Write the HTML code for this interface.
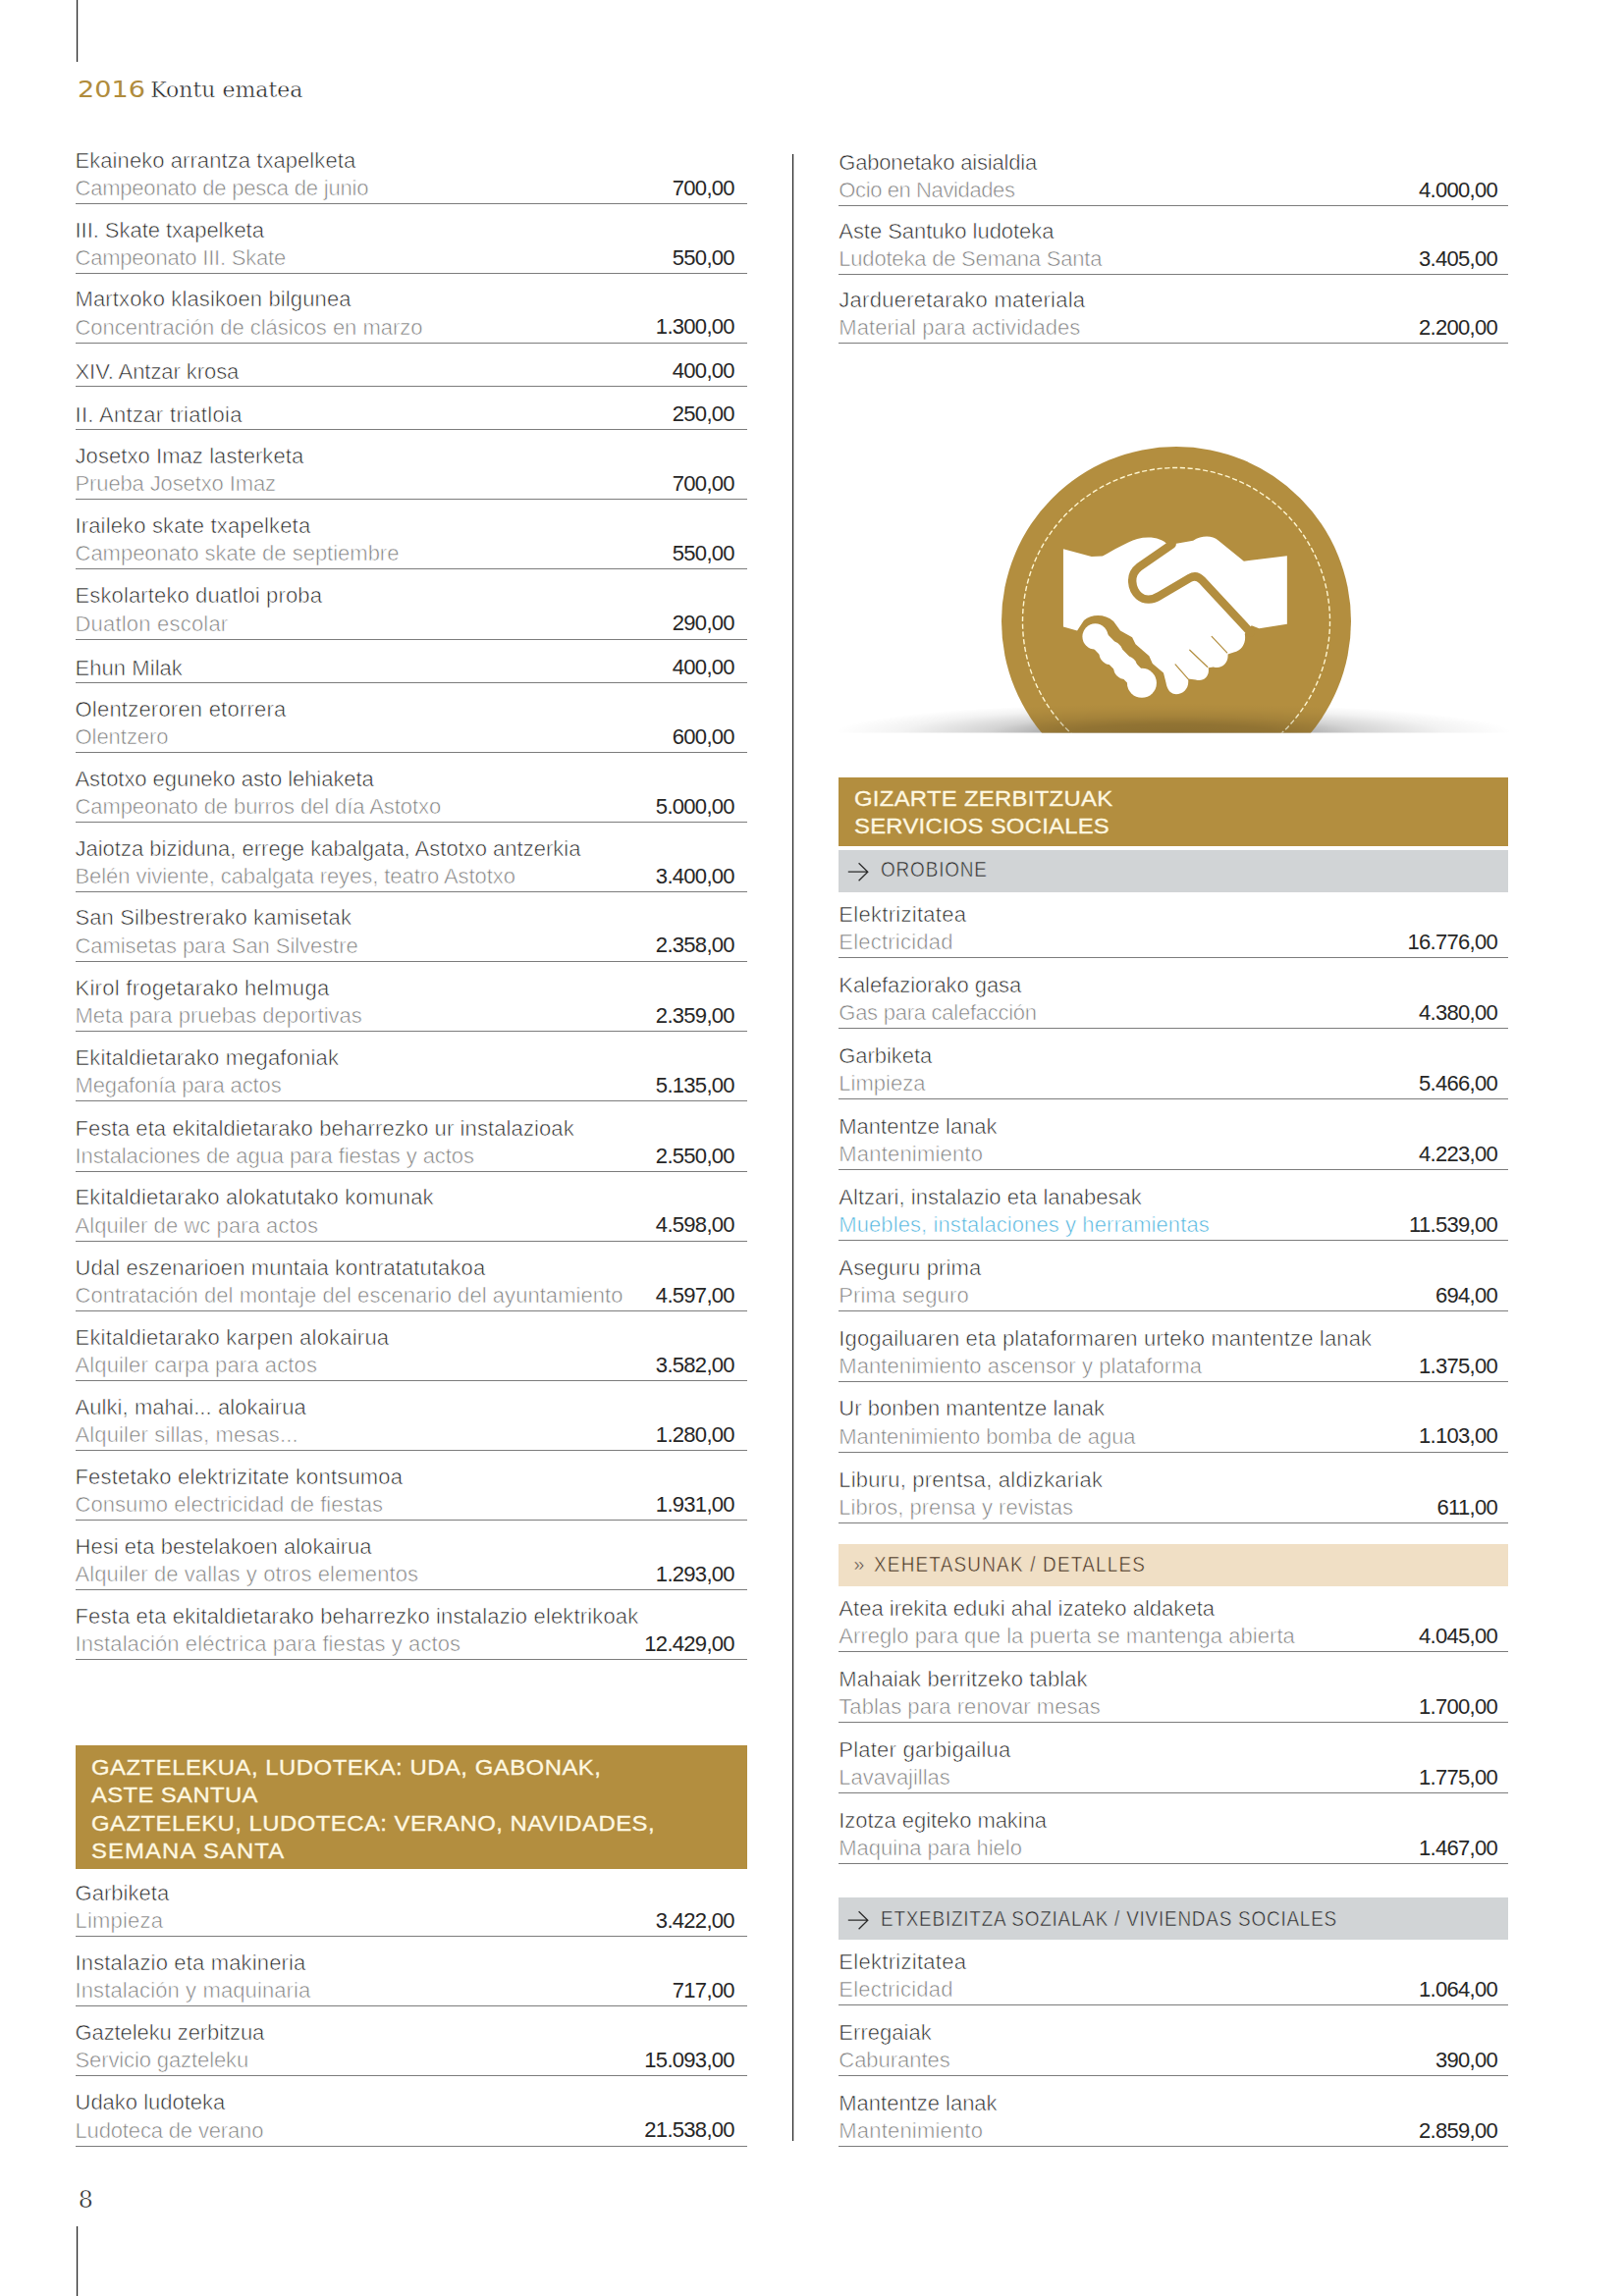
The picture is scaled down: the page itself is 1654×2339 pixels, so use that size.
<!DOCTYPE html>
<html lang="eu"><head><meta charset="utf-8"><title>2016 Kontu ematea</title><style>
html,body{margin:0;padding:0;background:#fff}
body{width:1654px;height:2339px;position:relative;overflow:hidden;font-family:"Liberation Sans",sans-serif}
header,main,footer,section,h1,h2,h3,ul,li,p{margin:0;padding:0;font-weight:normal;font-size:inherit;list-style:none}
.col{position:absolute;top:0;height:2339px}
.col.left{left:77px;width:684px}
.col.right{left:854px;width:682px}
.row{position:absolute;left:0;width:100%;border-bottom:1px solid #7c7c7c;box-sizing:content-box}
.t{position:absolute;white-space:nowrap;font-size:22px;line-height:30px;height:30px;display:block}
.b{color:#262626;-webkit-text-stroke:0.6px #fff}
.s{color:#7e7e7e;-webkit-text-stroke:0.6px #fff}
.s.blue{color:#4fb3dd}
.n{color:#262626;text-align:right;letter-spacing:-0.7px;width:200px}
.vl{position:absolute;width:1px;background:#262626;box-shadow:1px 0 0 #d4d4d4,-1px 0 0 #ececec}
.gold{position:absolute;left:0;width:100%;background:#b38e3f}
.gold span{position:absolute;display:block;white-space:nowrap;color:#fff8e1;font-size:21.3px;line-height:28px;height:28px;letter-spacing:.45px;-webkit-text-stroke:0.3px #fff8e1;transform:scaleX(1.12);transform-origin:0 50%}
.bar{position:absolute;left:0;width:100%;height:42px}
.bar.grey{background:#d1d4d6}
.bar.beige{background:#f0dfc5}
.bar span{position:absolute;white-space:nowrap;font-size:22px;line-height:30px;color:#2b2b2b;transform:scaleX(.86);transform-origin:0 50%}
.bar.grey span{-webkit-text-stroke:0.55px #d1d4d6}
.bar.beige span{-webkit-text-stroke:0.55px #f0dfc5}
.bar svg{position:absolute;left:9px}
.yr{position:absolute;left:79.3px;top:71.2px;height:40px;line-height:40px;white-space:nowrap;font-family:"DejaVu Sans","Liberation Sans",sans-serif;font-size:22.4px;color:#b08c3c;transform:scaleX(1.21);transform-origin:0 50%}
.tt{position:absolute;left:153.2px;top:71.6px;height:40px;line-height:40px;white-space:nowrap;font-family:"DejaVu Serif","Liberation Serif",serif;font-size:22px;color:#1e1e1e;-webkit-text-stroke:0.45px #fff}
.pg{position:absolute;left:79.8px;top:2223.5px;font-family:"DejaVu Serif","Liberation Serif",serif;font-size:23.7px;line-height:34px;color:#1e1e1e;-webkit-text-stroke:0.5px #fff}
.badge{position:absolute;left:-1px;top:440px}
</style></head><body>
<header><div class="vl" style="left:78px;top:0;height:62.5px"></div><h1><span class="yr">2016</span><span class="tt">Kontu ematea</span></h1></header>
<main>
<div class="col left">
<section class="sec">
<ul class="rows">
<li class="row" style="top:143px;height:64px"><span class="t b" style="left:-0.5px;top:5.6px;letter-spacing:0.07px">Ekaineko arrantza txapelketa</span><span class="t s" style="left:-0.5px;top:33.8px;letter-spacing:-0.21px">Campeonato de pesca de junio</span><span class="t n" style="left:470.9px;top:33.6px">700,00</span></li>
<li class="row" style="top:214px;height:64px"><span class="t b" style="left:-0.5px;top:5.6px;letter-spacing:-0.04px">III. Skate txapelketa</span><span class="t s" style="left:-0.5px;top:33.8px;letter-spacing:-0.21px">Campeonato III. Skate</span><span class="t n" style="left:470.9px;top:33.6px">550,00</span></li>
<li class="row" style="top:285px;height:64px"><span class="t b" style="left:-0.5px;top:5.3px;letter-spacing:0.13px">Martxoko klasikoen bilgunea</span><span class="t s" style="left:-0.5px;top:33.5px;letter-spacing:-0.02px">Concentración de clásicos en marzo</span><span class="t n" style="left:470.9px;top:33.3px">1.300,00</span></li>
<li class="row" style="top:357px;height:36px"><span class="t b" style="left:-0.5px;top:6.8px;letter-spacing:-0.07px">XIV. Antzar krosa</span><span class="t n" style="left:470.9px;top:5.7px">400,00</span></li>
<li class="row" style="top:401px;height:36px"><span class="t b" style="left:-0.5px;top:6.9px;letter-spacing:0.32px">II. Antzar triatloia</span><span class="t n" style="left:470.9px;top:5.8px">250,00</span></li>
<li class="row" style="top:444px;height:64px"><span class="t b" style="left:-0.5px;top:5.5px;letter-spacing:0.07px">Josetxo Imaz lasterketa</span><span class="t s" style="left:-0.5px;top:33.7px;letter-spacing:-0.12px">Prueba Josetxo Imaz</span><span class="t n" style="left:470.9px;top:33.5px">700,00</span></li>
<li class="row" style="top:515px;height:64px"><span class="t b" style="left:-0.5px;top:5.6px;letter-spacing:0.15px">Iraileko skate txapelketa</span><span class="t s" style="left:-0.5px;top:33.8px;letter-spacing:-0.01px">Campeonato skate de septiembre</span><span class="t n" style="left:470.9px;top:33.6px">550,00</span></li>
<li class="row" style="top:587px;height:64px"><span class="t b" style="left:-0.5px;top:5.3px;letter-spacing:0.13px">Eskolarteko duatloi proba</span><span class="t s" style="left:-0.5px;top:33.5px;letter-spacing:0.2px">Duatlon escolar</span><span class="t n" style="left:470.9px;top:33.3px">290,00</span></li>
<li class="row" style="top:659px;height:36px"><span class="t b" style="left:-0.5px;top:6.7px;letter-spacing:0.06px">Ehun Milak</span><span class="t n" style="left:470.9px;top:5.6px">400,00</span></li>
<li class="row" style="top:702px;height:64px"><span class="t b" style="left:-0.5px;top:5.5px;letter-spacing:0.22px">Olentzeroren etorrera</span><span class="t s" style="left:-0.5px;top:33.7px;letter-spacing:-0.04px">Olentzero</span><span class="t n" style="left:470.9px;top:33.5px">600,00</span></li>
<li class="row" style="top:773px;height:64px"><span class="t b" style="left:-0.5px;top:5.6px;letter-spacing:-0.05px">Astotxo eguneko asto lehiaketa</span><span class="t s" style="left:-0.5px;top:33.8px;letter-spacing:-0.08px">Campeonato de burros del día Astotxo</span><span class="t n" style="left:470.9px;top:33.6px">5.000,00</span></li>
<li class="row" style="top:844px;height:64px"><span class="t b" style="left:-0.5px;top:5.8px;letter-spacing:0px">Jaiotza biziduna, errege kabalgata, Astotxo antzerkia</span><span class="t s" style="left:-0.5px;top:34px;letter-spacing:-0.06px">Belén viviente, cabalgata reyes, teatro Astotxo</span><span class="t n" style="left:470.9px;top:33.8px">3.400,00</span></li>
<li class="row" style="top:915px;height:64px"><span class="t b" style="left:-0.5px;top:5.4px;letter-spacing:0.1px">San Silbestrerako kamisetak</span><span class="t s" style="left:-0.5px;top:33.6px;letter-spacing:-0.06px">Camisetas para San Silvestre</span><span class="t n" style="left:470.9px;top:33.4px">2.358,00</span></li>
<li class="row" style="top:986px;height:64px"><span class="t b" style="left:-0.5px;top:5.7px;letter-spacing:0.28px">Kirol frogetarako helmuga</span><span class="t s" style="left:-0.5px;top:33.9px;letter-spacing:0px">Meta para pruebas deportivas</span><span class="t n" style="left:470.9px;top:33.7px">2.359,00</span></li>
<li class="row" style="top:1057px;height:64px"><span class="t b" style="left:-0.5px;top:6.1px;letter-spacing:0.17px">Ekitaldietarako megafoniak</span><span class="t s" style="left:-0.5px;top:34.3px;letter-spacing:-0.14px">Megafonía para actos</span><span class="t n" style="left:470.9px;top:34.1px">5.135,00</span></li>
<li class="row" style="top:1129px;height:64px"><span class="t b" style="left:-0.5px;top:5.6px;letter-spacing:0.11px">Festa eta ekitaldietarako beharrezko ur instalazioak</span><span class="t s" style="left:-0.5px;top:33.8px;letter-spacing:-0.08px">Instalaciones de agua para fiestas y actos</span><span class="t n" style="left:470.9px;top:33.6px">2.550,00</span></li>
<li class="row" style="top:1200px;height:64px"><span class="t b" style="left:-0.5px;top:5.4px;letter-spacing:0.2px">Ekitaldietarako alokatutako komunak</span><span class="t s" style="left:-0.5px;top:33.6px;letter-spacing:0.07px">Alquiler de wc para actos</span><span class="t n" style="left:470.9px;top:33.4px">4.598,00</span></li>
<li class="row" style="top:1271px;height:64px"><span class="t b" style="left:-0.5px;top:5.7px;letter-spacing:0.11px">Udal eszenarioen muntaia kontratatutakoa</span><span class="t s" style="left:-0.5px;top:33.9px;letter-spacing:0.05px">Contratación del montaje del escenario del ayuntamiento</span><span class="t n" style="left:470.9px;top:33.7px">4.597,00</span></li>
<li class="row" style="top:1342px;height:64px"><span class="t b" style="left:-0.5px;top:5.5px;letter-spacing:0.21px">Ekitaldietarako karpen alokairua</span><span class="t s" style="left:-0.5px;top:33.7px;letter-spacing:0.13px">Alquiler carpa para actos</span><span class="t n" style="left:470.9px;top:33.5px">3.582,00</span></li>
<li class="row" style="top:1413px;height:64px"><span class="t b" style="left:-0.5px;top:5.8px;letter-spacing:0.07px">Aulki, mahai... alokairua</span><span class="t s" style="left:-0.5px;top:34px;letter-spacing:0.14px">Alquiler sillas, mesas...</span><span class="t n" style="left:470.9px;top:33.8px">1.280,00</span></li>
<li class="row" style="top:1484px;height:64px"><span class="t b" style="left:-0.5px;top:5.6px;letter-spacing:0.18px">Festetako elektrizitate kontsumoa</span><span class="t s" style="left:-0.5px;top:33.8px;letter-spacing:0.06px">Consumo electricidad de fiestas</span><span class="t n" style="left:470.9px;top:33.6px">1.931,00</span></li>
<li class="row" style="top:1555px;height:64px"><span class="t b" style="left:-0.5px;top:5.9px;letter-spacing:0.04px">Hesi eta bestelakoen alokairua</span><span class="t s" style="left:-0.5px;top:34.1px;letter-spacing:0.1px">Alquiler de vallas y otros elementos</span><span class="t n" style="left:470.9px;top:33.9px">1.293,00</span></li>
<li class="row" style="top:1626px;height:64px"><span class="t b" style="left:-0.5px;top:6.2px;letter-spacing:0.15px">Festa eta ekitaldietarako beharrezko instalazio elektrikoak</span><span class="t s" style="left:-0.5px;top:34.4px;letter-spacing:0.09px">Instalación eléctrica para fiestas y actos</span><span class="t n" style="left:470.9px;top:34.2px">12.429,00</span></li>
</ul>
</section>
<section class="sec">
<h2 class="gold" style="top:1778.2px;height:125.5px"><span style="left:15.7px;top:8.6px;letter-spacing:.47px">GAZTELEKUA, LUDOTEKA: UDA, GABONAK,</span><span style="left:15.7px;top:36.9px;letter-spacing:.34px">ASTE SANTUA</span><span style="left:15.7px;top:65.7px;letter-spacing:.44px">GAZTELEKU, LUDOTECA: VERANO, NAVIDADES,</span><span style="left:15.7px;top:93.5px;letter-spacing:1px">SEMANA SANTA</span></h2>
<ul class="rows">
<li class="row" style="top:1908px;height:64px"><span class="t b" style="left:-0.5px;top:6px;letter-spacing:0.03px">Garbiketa</span><span class="t s" style="left:-0.5px;top:34.2px;letter-spacing:0.21px">Limpieza</span><span class="t n" style="left:470.9px;top:34px">3.422,00</span></li>
<li class="row" style="top:1979px;height:64px"><span class="t b" style="left:-0.5px;top:5.8px;letter-spacing:0.16px">Instalazio eta makineria</span><span class="t s" style="left:-0.5px;top:34px;letter-spacing:0.11px">Instalación y maquinaria</span><span class="t n" style="left:470.9px;top:33.8px">717,00</span></li>
<li class="row" style="top:2050px;height:64px"><span class="t b" style="left:-0.5px;top:5.6px;letter-spacing:-0.09px">Gazteleku zerbitzua</span><span class="t s" style="left:-0.5px;top:33.8px;letter-spacing:-0.11px">Servicio gazteleku</span><span class="t n" style="left:470.9px;top:33.6px">15.093,00</span></li>
<li class="row" style="top:2122px;height:64px"><span class="t b" style="left:-0.5px;top:5.4px;letter-spacing:-0.01px">Udako ludoteka</span><span class="t s" style="left:-0.5px;top:33.6px;letter-spacing:-0.15px">Ludoteca de verano</span><span class="t n" style="left:470.9px;top:33.4px">21.538,00</span></li>
</ul>
</section>
</div>
<div class="vl" style="left:807px;top:157px;height:2024px"></div>
<div class="col right">
<section class="sec">
<ul class="rows">
<li class="row" style="top:145px;height:64px"><span class="t b" style="left:0.3px;top:6px;letter-spacing:-0.19px">Gabonetako aisialdia</span><span class="t s" style="left:0.3px;top:34.2px;letter-spacing:-0.39px">Ocio en Navidades</span><span class="t n" style="left:471px;top:34px">4.000,00</span></li>
<li class="row" style="top:215px;height:64px"><span class="t b" style="left:0.3px;top:6px;letter-spacing:-0.05px">Aste Santuko ludoteka</span><span class="t s" style="left:0.3px;top:34.2px;letter-spacing:-0.2px">Ludoteka de Semana Santa</span><span class="t n" style="left:471px;top:34px">3.405,00</span></li>
<li class="row" style="top:285px;height:64px"><span class="t b" style="left:0.3px;top:5.8px;letter-spacing:0.27px">Jardueretarako materiala</span><span class="t s" style="left:0.3px;top:34px;letter-spacing:0.06px">Material para actividades</span><span class="t n" style="left:471px;top:33.8px">2.200,00</span></li>
</ul>
</section>
<!-- handshake badge -->
<svg class="badge" width="684" height="320" viewBox="853 440 684 320">
<defs>
<clipPath id="cc"><circle cx="1198" cy="633" r="178"/></clipPath><clipPath id="slot"><rect x="853" y="440" width="684" height="306.5"/></clipPath>
<radialGradient id="shr" cx="0.5" cy="0.5" r="0.5"><stop offset="0" stop-color="#000" stop-opacity="0.44"/><stop offset="0.3" stop-color="#000" stop-opacity="0.38"/><stop offset="0.55" stop-color="#000" stop-opacity="0.17"/><stop offset="0.8" stop-color="#000" stop-opacity="0.05"/><stop offset="1" stop-color="#000" stop-opacity="0"/></radialGradient>
</defs>
<g clip-path="url(#slot)">
<ellipse cx="1195" cy="746.5" rx="345" ry="30" fill="url(#shr)"/>
<circle cx="1198" cy="633" r="178" fill="#b38e3f"/>
<circle cx="1198" cy="633" r="156.5" fill="none" stroke="#fff6d0" stroke-width="1.4" stroke-dasharray="5.2 2.6"/>
<g transform="translate(1060,520) scale(0.17241)">
<path fill="#fff" d="M133,228 L300,272 L365,270 C430,235 500,190 570,168 C640,150 715,160 752,205 L900,178 C950,148 1010,145 1050,178 L1200,300 L1455,268 L1455,672 L1290,697 L1245,680 L1205,730 C1215,780 1190,830 1140,838 L1105,850 C1110,900 1070,940 1020,925 L990,930 C1000,980 960,1015 915,1000 L870,995 C880,1050 840,1090 790,1085 C760,1080 745,1050 740,1020 L725,960 L660,905 L640,860 L560,790 L540,750 L470,710 L430,655 C380,610 300,610 255,650 L215,710 L133,687 Z"/>
<path fill="none" stroke="#b38e3f" stroke-width="49" stroke-linecap="round" stroke-linejoin="round" d="M775,200 L580,335 C520,380 535,465 580,505 C615,535 660,530 700,505 L880,400 C905,385 930,390 950,410 L1240,722"/>
<path fill="none" stroke="#b38e3f" stroke-width="7" stroke-linecap="round" d="M1010,745 L1100,840 M880,825 L985,925 M795,910 L870,995"/>
<path fill="none" stroke="#fff" stroke-width="118" stroke-linecap="round" d="M330,750 L585,1010"/>
<circle cx="322" cy="745" r="76" fill="#fff"/><circle cx="415" cy="842" r="70" fill="#fff"/><circle cx="500" cy="928" r="70" fill="#fff"/><circle cx="597" cy="1020" r="87" fill="#fff"/>
</g>
<ellipse cx="1195" cy="746.5" rx="345" ry="30" fill="url(#shr)" opacity="0.5" clip-path="url(#cc)"/>
</g>
</svg>
<section class="sec">
<h2 class="gold" style="top:791.6px;height:70.2px"><span style="left:16.2px;top:8px;letter-spacing:.27px">GIZARTE ZERBITZUAK</span><span style="left:16.2px;top:36.4px;letter-spacing:.23px">SERVICIOS SOCIALES</span></h2>
<h3 class="bar grey" style="top:866.1px;height:42.8px"><svg width="24" height="22" viewBox="0 0 24 22" style="top:10.5px"><path d="M0.8,11.2H20.6M11.6,2.2L20.8,11.2L11.6,20.2" fill="none" stroke="#2b2b2b" stroke-width="1.3"/></svg><span style="left:42.8px;top:5.2px;letter-spacing:1px">OROBIONE</span></h3>
<ul class="rows">
<li class="row" style="top:911px;height:64px"><span class="t b" style="left:0.3px;top:5.8px;letter-spacing:0.29px">Elektrizitatea</span><span class="t s" style="left:0.3px;top:34px;letter-spacing:0.22px">Electricidad</span><span class="t n" style="left:471px;top:33.8px">16.776,00</span></li>
<li class="row" style="top:983px;height:64px"><span class="t b" style="left:0.3px;top:5.6px;letter-spacing:-0.07px">Kalefaziorako gasa</span><span class="t s" style="left:0.3px;top:33.8px;letter-spacing:-0.26px">Gas para calefacción</span><span class="t n" style="left:471px;top:33.6px">4.380,00</span></li>
<li class="row" style="top:1055px;height:64px"><span class="t b" style="left:0.3px;top:5.6px;letter-spacing:-0.05px">Garbiketa</span><span class="t s" style="left:0.3px;top:33.8px;letter-spacing:0.02px">Limpieza</span><span class="t n" style="left:471px;top:33.6px">5.466,00</span></li>
<li class="row" style="top:1127px;height:64px"><span class="t b" style="left:0.3px;top:5.5px;letter-spacing:-0.01px">Mantentze lanak</span><span class="t s" style="left:0.3px;top:33.7px;letter-spacing:0.19px">Mantenimiento</span><span class="t n" style="left:471px;top:33.5px">4.223,00</span></li>
<li class="row" style="top:1199px;height:64px"><span class="t b" style="left:0.3px;top:5.7px;letter-spacing:0.01px">Altzari, instalazio eta lanabesak</span><span class="t s blue" style="left:0.3px;top:33.9px;letter-spacing:0.09px">Muebles, instalaciones y herramientas</span><span class="t n" style="left:471px;top:33.7px">11.539,00</span></li>
<li class="row" style="top:1271px;height:64px"><span class="t b" style="left:0.3px;top:5.7px;letter-spacing:0.16px">Aseguru prima</span><span class="t s" style="left:0.3px;top:33.9px;letter-spacing:0.14px">Prima seguro</span><span class="t n" style="left:471px;top:33.7px">694,00</span></li>
<li class="row" style="top:1343px;height:64px"><span class="t b" style="left:0.3px;top:5.6px;letter-spacing:0.16px">Igogailuaren eta plataformaren urteko mantentze lanak</span><span class="t s" style="left:0.3px;top:33.8px;letter-spacing:0.08px">Mantenimiento ascensor y plataforma</span><span class="t n" style="left:471px;top:33.6px">1.375,00</span></li>
<li class="row" style="top:1415px;height:64px"><span class="t b" style="left:0.3px;top:5.4px;letter-spacing:0.02px">Ur bonben mantentze lanak</span><span class="t s" style="left:0.3px;top:33.6px;letter-spacing:-0.04px">Mantenimiento bomba de agua</span><span class="t n" style="left:471px;top:33.4px">1.103,00</span></li>
<li class="row" style="top:1487px;height:64px"><span class="t b" style="left:0.3px;top:5.6px;letter-spacing:0.21px">Liburu, prentsa, aldizkariak</span><span class="t s" style="left:0.3px;top:33.8px;letter-spacing:0.01px">Libros, prensa y revistas</span><span class="t n" style="left:471px;top:33.6px">611,00</span></li>
</ul>
<h3 class="bar beige" style="top:1573px;height:42.6px"><span style="left:15.3px;top:4.9px;transform:none;font-size:20px">»</span><span style="left:36.2px;top:6.3px;letter-spacing:1.4px;color:#3b2e1c">XEHETASUNAK / DETALLES</span></h3>
<ul class="rows">
<li class="row" style="top:1618px;height:64px"><span class="t b" style="left:0.3px;top:5.7px;letter-spacing:0.03px">Atea irekita eduki ahal izateko aldaketa</span><span class="t s" style="left:0.3px;top:33.9px;letter-spacing:0.05px">Arreglo para que la puerta se mantenga abierta</span><span class="t n" style="left:471px;top:33.7px">4.045,00</span></li>
<li class="row" style="top:1690px;height:64px"><span class="t b" style="left:0.3px;top:5.9px;letter-spacing:0.11px">Mahaiak berritzeko tablak</span><span class="t s" style="left:0.3px;top:34.1px;letter-spacing:0.05px">Tablas para renovar mesas</span><span class="t n" style="left:471px;top:33.9px">1.700,00</span></li>
<li class="row" style="top:1762px;height:64px"><span class="t b" style="left:0.3px;top:5.9px;letter-spacing:0.22px">Plater garbigailua</span><span class="t s" style="left:0.3px;top:34.1px;letter-spacing:-0.02px">Lavavajillas</span><span class="t n" style="left:471px;top:33.9px">1.775,00</span></li>
<li class="row" style="top:1834px;height:64px"><span class="t b" style="left:0.3px;top:5.8px;letter-spacing:-0.05px">Izotza egiteko makina</span><span class="t s" style="left:0.3px;top:34px;letter-spacing:-0.03px">Maquina para hielo</span><span class="t n" style="left:471px;top:33.8px">1.467,00</span></li>
</ul>
<h3 class="bar grey" style="top:1933.4px;height:42.4px"><svg width="24" height="22" viewBox="0 0 24 22" style="top:12px"><path d="M0.8,11.2H20.6M11.6,2.2L20.8,11.2L11.6,20.2" fill="none" stroke="#2b2b2b" stroke-width="1.3"/></svg><span style="left:42.8px;top:6.8px;letter-spacing:.9px">ETXEBIZITZA SOZIALAK / VIVIENDAS SOCIALES</span></h3>
<ul class="rows">
<li class="row" style="top:1978px;height:64px"><span class="t b" style="left:0.3px;top:6px;letter-spacing:0.29px">Elektrizitatea</span><span class="t s" style="left:0.3px;top:34.2px;letter-spacing:0.22px">Electricidad</span><span class="t n" style="left:471px;top:34px">1.064,00</span></li>
<li class="row" style="top:2050px;height:64px"><span class="t b" style="left:0.3px;top:5.8px;letter-spacing:0.04px">Erregaiak</span><span class="t s" style="left:0.3px;top:34px;letter-spacing:-0.03px">Caburantes</span><span class="t n" style="left:471px;top:33.8px">390,00</span></li>
<li class="row" style="top:2122px;height:64px"><span class="t b" style="left:0.3px;top:5.9px;letter-spacing:-0.01px">Mantentze lanak</span><span class="t s" style="left:0.3px;top:34.1px;letter-spacing:0.19px">Mantenimiento</span><span class="t n" style="left:471px;top:33.9px">2.859,00</span></li>
</ul>
</section>
</div>
</main>
<footer><div class="pg">8</div><div class="vl" style="left:78px;top:2268px;height:71px"></div></footer>
</body></html>
